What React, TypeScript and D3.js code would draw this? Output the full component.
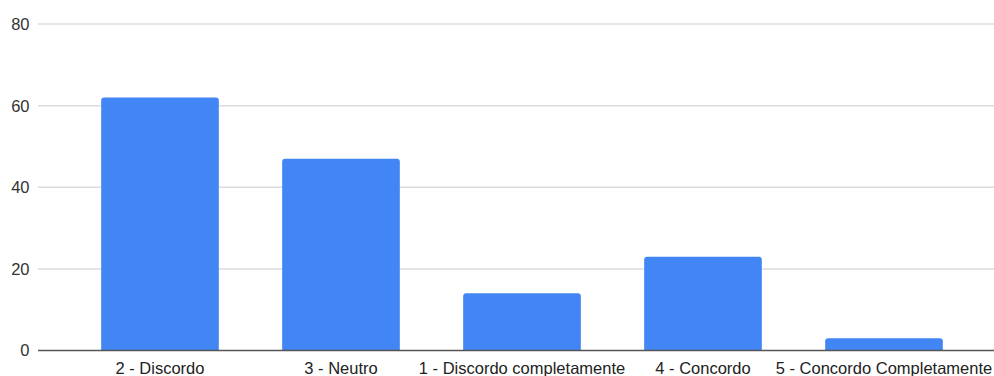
import React from "react";
import * as d3 from "d3";

const categories = [
  "2 - Discordo",
  "3 - Neutro",
  "1 - Discordo completamente",
  "4 - Concordo",
  "5 - Concordo Completamente",
];
const counts = [62, 47, 14, 23, 3];
const yTicks = [0, 20, 40, 60, 80];

const W = 994;
const H = 376;

export default function App() {
  const x = d3
    .scaleBand<string>()
    .domain(categories)
    .range([69.5, 974.5])
    .paddingInner(0.35)
    .paddingOuter(0.175);
  const y = d3.scaleLinear().domain([0, 80]).range([350.5, 24]);
  const r = 3;

  const barPath = (x0: number, w: number, top: number, bottom: number) => {
    const rr = Math.min(r, (bottom - top) / 2);
    return `M${x0},${bottom}V${top + rr}Q${x0},${top} ${x0 + rr},${top}H${x0 + w - rr}Q${x0 + w},${top} ${x0 + w},${top + rr}V${bottom}Z`;
  };

  return (
    <svg
      width={W}
      height={H}
      style={{ position: "fixed", left: 0, top: 0, background: "#fff" }}
      fontFamily="'Liberation Sans', Arial, Helvetica, sans-serif"
    >
      {yTicks.map((t) => (
        <g key={t}>
          {t !== 0 && (
            <line x1={38} x2={W} y1={y(t)} y2={y(t)} stroke="#dcdcdc" strokeWidth={1.5} />
          )}
          <text
            x={29.5}
            y={y(t)}
            dy="0.36em"
            textAnchor="end"
            fontSize={16.5}
            fill="#333"
          >
            {t}
          </text>
        </g>
      ))}
      {categories.map((c, i) => {
        const x0 = x(c)!;
        return (
          <path
            key={c}
            d={barPath(x0, x.bandwidth(), y(counts[i]), y(0))}
            fill="#4285f4"
          />
        );
      })}
      <line x1={38} x2={W} y1={y(0)} y2={y(0)} stroke="#555" strokeWidth={1.5} />
      {categories.map((c) => (
        <text
          key={c}
          x={x(c)! + x.bandwidth() / 2}
          y={373.5}
          textAnchor="middle"
          fontSize={16.5}
          fill="#222"
        >
          {c}
        </text>
      ))}
    </svg>
  );
}
